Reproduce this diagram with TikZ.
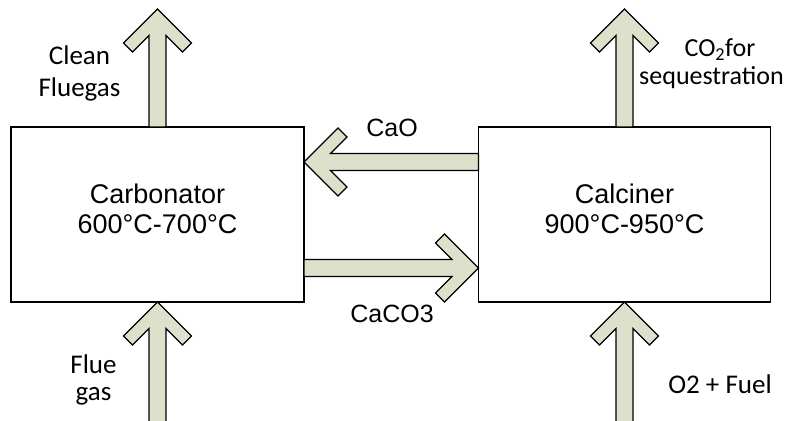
\documentclass[tikz,border=0pt]{standalone}
\usepackage{fontspec}
\setmainfont{Liberation Sans}
\newfontfamily\labelfont{Carlito}
\usepackage{xcolor}
\usetikzlibrary{calc}
\definecolor{flowfill}{RGB}{221,224,203}

% wide open-headed arrow: tip, direction, length
\newcommand{\fatarrow}[3]{%
  \draw[flow, shift={#1}, rotate=#2] (0,0) -- (-34,34) -- (-43,25) -- (-26.5,8.5)
    -- (-#3,8.5) -- (-#3,-8.5) -- (-26.5,-8.5) -- (-43,-25) -- (-34,-34) -- cycle;}

\begin{document}
\begin{tikzpicture}[x=1pt, y=1pt,
    reactor/.style={draw=black, line width=1.2pt, fill=white, outer sep=0pt,
                    minimum width=293pt, minimum height=175pt, align=center,
                    font=\fontsize{27}{30}\selectfont, text depth=12pt},
    flow/.style={draw=black, line width=1.3pt, fill=flowfill, line join=miter},
    stream/.style={align=center, inner sep=0pt, font=\labelfont\fontsize{27}{30}\selectfont},
    species/.style={anchor=base, inner sep=0pt, font=\fontsize{25}{30}\selectfont}
]
    \useasboundingbox (0,0) rectangle (799,420);

    \node[reactor] (carbonator) at (157.5,205.5) {Carbonator\\600°C-700°C};
    \node[reactor, minimum width=292pt] (calciner) at (624.5,205.5) {Calciner\\900°C-950°C};

    \fatarrow{($(carbonator.north)+(0,118)$)}{90}{118}
    \fatarrow{($(calciner.north)+(0,118)$)}{90}{118}
    \fatarrow{(carbonator.south)}{90}{125}
    \fatarrow{(calciner.south)}{90}{125}
    \fatarrow{($(carbonator.east)+(0,52.5)$)}{180}{174.5}
    \fatarrow{($(calciner.west)+(0,-53.5)$)}{0}{174.5}

    \node[stream, font=\labelfont\fontsize{27}{32}\selectfont] (clean) at (79.5,347) {Clean\\Fluegas};
    \node[stream, font=\labelfont\fontsize{26}{28}\selectfont] (co2) at (711.5,356.5)
        {\hspace*{17pt}CO\textsubscript{2}for\\sequestration};
    \node[stream, font=\labelfont\fontsize{27}{27}\selectfont] (flue) at (93.5,40.5) {Flue\\gas};
    \node[stream, anchor=base] (fuel) at (720,27) {O2 + Fuel};

    \node[species] (cao) at (392,283) {CaO};
    \node[species] (caco3) at (392,97) {CaCO3};
\end{tikzpicture}
\end{document}
